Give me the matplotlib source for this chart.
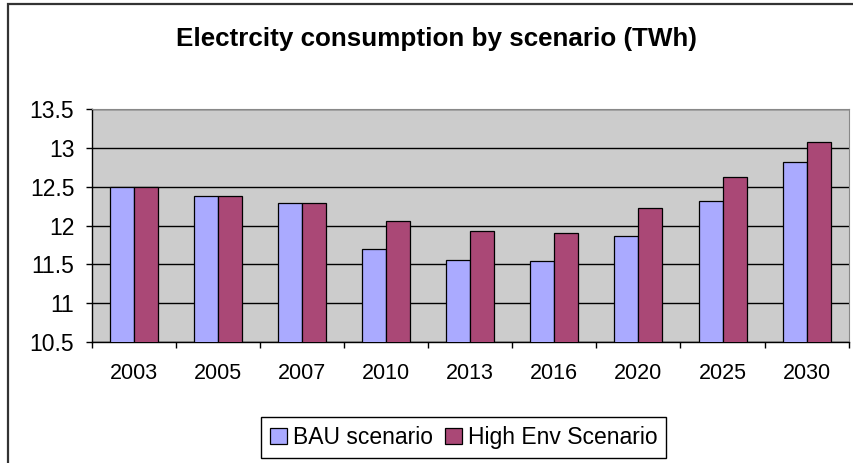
import matplotlib.pyplot as plt
import numpy as np
from matplotlib.patches import Rectangle, Patch
from matplotlib.ticker import MultipleLocator, FormatStrFormatter

plt.rcParams['font.family'] = ['Liberation Sans', 'DejaVu Sans']

# Data
years = ['2003', '2005', '2007', '2010', '2013', '2016', '2020', '2025', '2030']
bau = [12.50, 12.38, 12.29, 11.70, 11.56, 11.54, 11.86, 12.32, 12.82]
high_env = [12.50, 12.38, 12.29, 12.06, 11.93, 11.90, 12.23, 12.62, 13.08]
series_names = ['BAU scenario', 'High Env Scenario']
colors = ['#AAAAFF', '#AA4876']

fig = plt.figure(figsize=(8.54, 4.63), dpi=100)
ax = fig.add_axes([0.1074, 0.2613, 0.8864, 0.5033])

x = np.arange(len(years))
w = 0.285
ax.bar(x - w / 2, bau, w, color=colors[0], edgecolor='black', linewidth=0.9, zorder=3)
ax.bar(x + w / 2, high_env, w, color=colors[1], edgecolor='black', linewidth=0.9, zorder=3)

ax.set_facecolor('#CCCCCC')
ax.set_ylim(10.5, 13.5)
ax.set_xlim(-0.5, len(years) - 0.5)
ax.yaxis.set_major_locator(MultipleLocator(0.5))
ax.yaxis.set_major_formatter(FormatStrFormatter('%g'))
ax.yaxis.grid(True, color='black', linewidth=1, zorder=1)
ax.set_axisbelow(True)

ax.set_xticks(x)
ax.set_xticklabels(years)
ax.set_xticks(np.arange(-0.5, len(years)), minor=True)
ax.tick_params(axis='x', which='major', length=0, pad=15, labelsize=15.5)
ax.tick_params(axis='x', which='minor', length=4.5, width=1, color='black')
ax.tick_params(axis='y', length=4.5, width=1, pad=8, labelsize=16.5)

for s in ['top', 'right']:
    ax.spines[s].set_color('#888888')
for s in ['left', 'bottom']:
    ax.spines[s].set_color('black')
    ax.spines[s].set_linewidth(1)

fig.text(0.5105, 1 - 45.7 / 463, 'Electrcity consumption by scenario (TWh)', ha='center',
         va='baseline', fontsize=18.7, fontweight='bold')

handles = [Patch(facecolor=c, edgecolor='black', linewidth=0.9) for c in colors]
fig.legend(handles, series_names, loc='center', bbox_to_anchor=(0.543, 0.055), ncol=2,
           fontsize=16.5, frameon=True, fancybox=False, edgecolor='black', framealpha=1,
           handlelength=0.75, handleheight=0.75, handletextpad=0.25, columnspacing=0.5,
           borderpad=0.4, borderaxespad=0)

# outer chart border (right and bottom edges fall outside the image)
fig.patches.append(Rectangle((8 / 854, -0.1), 1.2, 1.1 - 4.5 / 463,
                             transform=fig.transFigure, fill=False,
                             edgecolor='#333333', linewidth=1.6))

fig.savefig('out.png', dpi=100)
